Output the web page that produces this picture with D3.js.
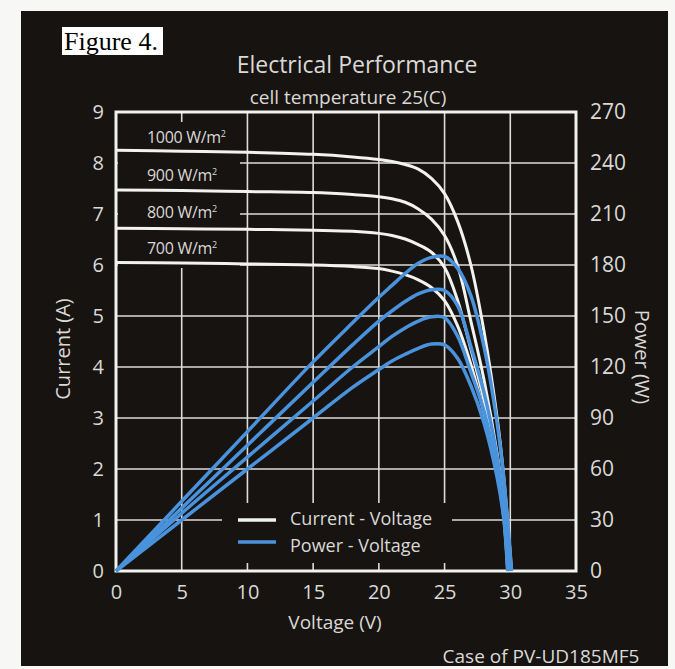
<!DOCTYPE html>
<html><head><meta charset="utf-8">
<script src="https://cdn.jsdelivr.net/npm/d3@7"></script>
<style>
html,body{margin:0;padding:0;background:#f7f7f5;}
svg{display:block;}
</style></head>
<body>
<script>
// ---- data ----
const voltage = [0, 5, 10, 15, 18, 20, 21, 22, 23, 24, 25, 26, 27, 28, 29, 29.5];
const irradiance = ["1000 W/m", "900 W/m", "800 W/m", "700 W/m"];
const vocs = [30.1, 30.0, 29.9, 29.8];
const current1000 = [8.25, 8.23, 8.21, 8.17, 8.12, 8.07, 8.03, 7.97, 7.88, 7.70, 7.40, 6.85, 6.00, 4.70, 3.00, 1.85];
const current900  = [7.47, 7.46, 7.44, 7.42, 7.38, 7.34, 7.30, 7.23, 7.10, 6.90, 6.58, 5.98, 4.90, 3.75, 2.30, 1.30];
const current800  = [6.72, 6.71, 6.70, 6.68, 6.66, 6.62, 6.58, 6.51, 6.40, 6.25, 5.95, 5.30, 4.35, 3.35, 2.05, 1.15];
const current700  = [6.05, 6.04, 6.02, 6.00, 5.97, 5.93, 5.88, 5.81, 5.71, 5.56, 5.30, 4.80, 4.05, 3.10, 1.90, 1.05];
const power1000 = [0, 41, 82, 123, 146, 161, 168, 175, 181, 184.5, 185, 178, 162, 132, 87, 55];
const power900  = [0, 37, 74, 111, 133, 147, 153, 158.5, 163, 165.5, 165, 156, 132, 105, 67, 38];
const power800  = [0, 34, 67, 100, 120, 132, 138, 143, 147, 149.5, 149, 138, 117, 94, 59, 34];
const power700  = [0, 30, 60, 90, 108, 118.5, 123.5, 127.5, 131, 133.5, 133, 125, 109, 87, 55, 31];
const xTicks = [0, 5, 10, 15, 20, 25, 30, 35];
const yTicksI = [0, 1, 2, 3, 4, 5, 6, 7, 8, 9];
const yTicksP = [0, 30, 60, 90, 120, 150, 180, 210, 240, 270];
const legendLabels = ["Current - Voltage", "Power - Voltage"];

const currents = [current1000, current900, current800, current700];
const powers = [power1000, power900, power800, power700];

// ---- drawing ----
const W = 675, H = 669;
const FONT = "'Open Sans',sans-serif";
const WHITE = "#f2f2ee", GRID = "#dcdcd8", TXT = "#d9d9d6", BLUE = "#4a93dc", BG = "#171311";

const svg = d3.select("body").append("svg").attr("width", W).attr("height", H);

svg.append("rect").attr("x", 21).attr("y", 11).attr("width", 647).attr("height", 655).attr("fill", BG);

const L = 116, R = 576, T = 112, B = 571;
const x = d3.scaleLinear([0, 35], [L, R]);
const yI = d3.scaleLinear([0, 9], [B, T]);
const yP = d3.scaleLinear([0, 270], [B, T]);

// grid
const g = svg.append("g");
g.selectAll("line.v").data(xTicks.slice(1, -1)).join("line")
  .attr("x1", d => x(d)).attr("x2", d => x(d)).attr("y1", T).attr("y2", B)
  .attr("stroke", GRID).attr("stroke-width", 1.6);
g.selectAll("line.h").data(yTicksI.slice(1, -1)).join("line")
  .attr("x1", L).attr("x2", R).attr("y1", d => yI(d)).attr("y2", d => yI(d))
  .attr("stroke", GRID).attr("stroke-width", 1.6);

// masks behind labels and legend
svg.append("rect").attr("x", L + 2).attr("y", 122).attr("width", 240 - L - 2).attr("height", 146).attr("fill", BG);
svg.append("rect").attr("x", 222).attr("y", 503).attr("width", 230).attr("height", 60).attr("fill", BG);

// border
svg.append("rect").attr("x", L).attr("y", T).attr("width", R - L).attr("height", B - T)
  .attr("fill", "none").attr("stroke", WHITE).attr("stroke-width", 3);

// axes labels via d3 axes
const axL = svg.append("g").attr("transform", `translate(${L},0)`)
  .call(d3.axisLeft(yI).tickValues(yTicksI).tickSize(0).tickPadding(12).tickFormat(d3.format("d")));
const axR = svg.append("g").attr("transform", `translate(${R},0)`)
  .call(d3.axisRight(yP).tickValues(yTicksP).tickSize(0).tickPadding(14).tickFormat(d3.format("d")));
const axB = svg.append("g").attr("transform", `translate(0,${B})`)
  .call(d3.axisBottom(x).tickValues(xTicks).tickSize(0).tickPadding(14).tickFormat(d3.format("d")));
[axL, axB].forEach(a => {
  a.select(".domain").remove();
  a.selectAll("text").attr("fill", TXT).style("font-family", FONT).style("font-size", "20px");
});
axR.select(".domain").remove();
axR.selectAll("text").attr("fill", TXT).style("font-family", FONT).style("font-size", "21px");

// curves
const lineI = d3.line().x(d => x(d[0])).y(d => yI(d[1])).curve(d3.curveCatmullRom.alpha(0.5));
const lineP = d3.line().x(d => x(d[0])).y(d => yP(d[1])).curve(d3.curveCatmullRom.alpha(0.5));

const ivData = currents.map((c, k) => voltage.map((v, i) => [v, c[i]]).concat([[vocs[k], 0]]));
const pvData = powers.map((p, k) => voltage.map((v, i) => [v, p[i]]).concat([[vocs[k], 0]]));

svg.append("g").selectAll("path").data(ivData).join("path")
  .attr("d", lineI).attr("fill", "none").attr("stroke", WHITE).attr("stroke-width", 3);
svg.append("g").selectAll("path").data(pvData).join("path")
  .attr("d", lineP).attr("fill", "none").attr("stroke", BLUE).attr("stroke-width", 3.5);

// irradiance labels
const labY = [137, 175, 212, 248];
const labs = svg.append("g").selectAll("text").data(irradiance).join("text")
  .attr("x", 147).attr("y", (d, i) => labY[i]).attr("dy", "0.35em")
  .attr("fill", TXT).style("font-family", FONT).style("font-size", "16px").style("letter-spacing", "-0.3px");
labs.append("tspan").text(d => d);
labs.append("tspan").text("2").attr("dy", "-0.6em").style("font-size", "9px");

// legend
const legColors = [WHITE, BLUE];
const legLineY = [520, 542];
const legTextY = [519, 546];
legendLabels.forEach((t, i) => {
  svg.append("line").attr("x1", 238).attr("x2", 276).attr("y1", legLineY[i]).attr("y2", legLineY[i])
    .attr("stroke", legColors[i]).attr("stroke-width", 3.5);
  svg.append("text").attr("x", 290).attr("y", legTextY[i]).attr("dy", "0.35em").text(t)
    .attr("fill", TXT).style("font-family", FONT).style("font-size", "18px");
});

// titles
svg.append("text").attr("x", 357).attr("y", 65).attr("dy", "0.35em").attr("text-anchor", "middle")
  .text("Electrical Performance").attr("fill", TXT).style("font-family", FONT).style("font-size", "23px");
svg.append("text").attr("x", 348).attr("y", 97).attr("dy", "0.35em").attr("text-anchor", "middle")
  .text("cell temperature 25(C)").attr("fill", TXT).style("font-family", FONT).style("font-size", "19px");

// axis titles
svg.append("text").attr("transform", "translate(63,349) rotate(-90)").attr("text-anchor", "middle").attr("dy", "0.35em")
  .text("Current (A)").attr("fill", TXT).style("font-family", FONT).style("font-size", "20px");
svg.append("text").attr("transform", "translate(642,357) rotate(90)").attr("text-anchor", "middle").attr("dy", "0.35em")
  .text("Power (W)").attr("fill", TXT).style("font-family", FONT).style("font-size", "20px");
svg.append("text").attr("x", 335).attr("y", 622).attr("dy", "0.35em").attr("text-anchor", "middle")
  .text("Voltage (V)").attr("fill", TXT).style("font-family", FONT).style("font-size", "19px");
svg.append("text").attr("x", 541).attr("y", 656).attr("dy", "0.35em").attr("text-anchor", "middle")
  .text("Case of PV-UD185MF5").attr("fill", TXT).style("font-family", FONT).style("font-size", "19px");

// figure caption
svg.append("rect").attr("x", 62).attr("y", 27).attr("width", 101).attr("height", 28).attr("fill", "#ffffff");
svg.append("text").attr("x", 64).attr("y", 50).text("Figure 4.")
  .attr("fill", "#000").style("font-family", "'Liberation Serif','Times New Roman',serif").style("font-size", "26px");
</script>
</body></html>
